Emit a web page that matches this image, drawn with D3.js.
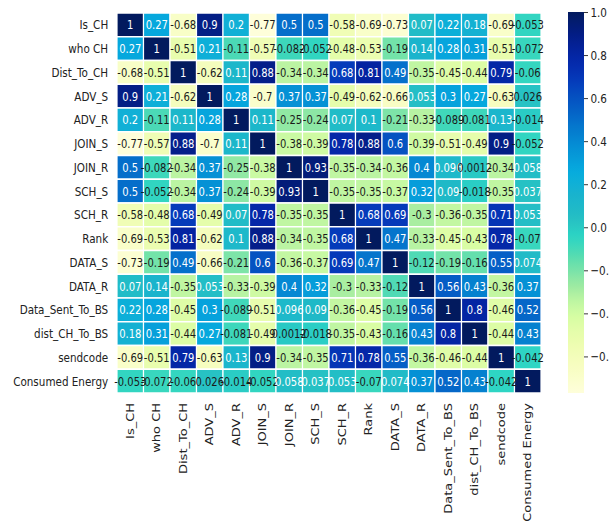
<!DOCTYPE html>
<html>
<head>
<meta charset="utf-8">
<script src="https://cdn.jsdelivr.net/npm/d3@7"></script>
<style>
  body { margin: 0; background: #fff; }
  text { font-family: "DejaVu Sans", sans-serif; }
</style>
</head>
<body>
<div id="chart"></div>
<script>
// variable names (rows and columns are the same)
var labels = ["Is_CH", "who CH", "Dist_To_CH", "ADV_S", "ADV_R", "JOIN_S", "JOIN_R", "SCH_S",
              "SCH_R", "Rank", "DATA_S", "DATA_R", "Data_Sent_To_BS", "dist_CH_To_BS", "sendcode", "Consumed Energy"];

// correlation rows
var rowIsCH      = [1, 0.27, -0.68, 0.9, 0.2, -0.77, 0.5, 0.5, -0.58, -0.69, -0.73, 0.07, 0.22, 0.18, -0.69, -0.053];
var rowWhoCH     = [0.27, 1, -0.51, 0.21, -0.11, -0.57, -0.082, -0.052, -0.48, -0.53, -0.19, 0.14, 0.28, 0.31, -0.51, -0.072];
var rowDistToCH  = [-0.68, -0.51, 1, -0.62, 0.11, 0.88, -0.34, -0.34, 0.68, 0.81, 0.49, -0.35, -0.45, -0.44, 0.79, -0.06];
var rowAdvS      = [0.9, 0.21, -0.62, 1, 0.28, -0.7, 0.37, 0.37, -0.49, -0.62, -0.66, 0.053, 0.3, 0.27, -0.63, 0.026];
var rowAdvR      = [0.2, -0.11, 0.11, 0.28, 1, 0.11, -0.25, -0.24, 0.07, 0.1, -0.21, -0.33, -0.089, -0.081, 0.13, -0.014];
var rowJoinS     = [-0.77, -0.57, 0.88, -0.7, 0.11, 1, -0.38, -0.39, 0.78, 0.88, 0.6, -0.39, -0.51, -0.49, 0.9, -0.052];
var rowJoinR     = [0.5, -0.082, -0.34, 0.37, -0.25, -0.38, 1, 0.93, -0.35, -0.34, -0.36, 0.4, 0.096, 0.0012, -0.34, 0.058];
var rowSchS      = [0.5, -0.052, -0.34, 0.37, -0.24, -0.39, 0.93, 1, -0.35, -0.35, -0.37, 0.32, 0.09, -0.018, -0.35, 0.037];
var rowSchR      = [-0.58, -0.48, 0.68, -0.49, 0.07, 0.78, -0.35, -0.35, 1, 0.68, 0.69, -0.3, -0.36, -0.35, 0.71, 0.053];
var rowRank      = [-0.69, -0.53, 0.81, -0.62, 0.1, 0.88, -0.34, -0.35, 0.68, 1, 0.47, -0.33, -0.45, -0.43, 0.78, -0.07];
var rowDataS     = [-0.73, -0.19, 0.49, -0.66, -0.21, 0.6, -0.36, -0.37, 0.69, 0.47, 1, -0.12, -0.19, -0.16, 0.55, 0.074];
var rowDataR     = [0.07, 0.14, -0.35, 0.053, -0.33, -0.39, 0.4, 0.32, -0.3, -0.33, -0.12, 1, 0.56, 0.43, -0.36, 0.37];
var rowSentToBS  = [0.22, 0.28, -0.45, 0.3, -0.089, -0.51, 0.096, 0.09, -0.36, -0.45, -0.19, 0.56, 1, 0.8, -0.46, 0.52];
var rowDistToBS  = [0.18, 0.31, -0.44, 0.27, -0.081, -0.49, 0.0012, -0.018, -0.35, -0.43, -0.16, 0.43, 0.8, 1, -0.44, 0.43];
var rowSendcode  = [-0.69, -0.51, 0.79, -0.63, 0.13, 0.9, -0.34, -0.35, 0.71, 0.78, 0.55, -0.36, -0.46, -0.44, 1, -0.042];
var rowEnergy    = [-0.053, -0.072, -0.06, 0.026, -0.014, -0.052, 0.058, 0.037, 0.053, -0.07, 0.074, 0.37, 0.52, 0.43, -0.042, 1];

var matrix = [rowIsCH, rowWhoCH, rowDistToCH, rowAdvS, rowAdvR, rowJoinS, rowJoinR, rowSchS,
              rowSchR, rowRank, rowDataS, rowDataR, rowSentToBS, rowDistToBS, rowSendcode, rowEnergy];

// colorbar ticks
var cbarTicks = [-0.6, -0.4, -0.2, 0.0, 0.2, 0.4, 0.6, 0.8, 1.0];

var W = 609, H = 524;
var sx = 0.8; // the picture is squeezed sideways, so everything is drawn in a squeezed group
var vmin = -0.77, vmax = 1;

// YlGnBu, more saturated (and a bit deeper in the middle) like the photo
function cellColor(v) {
    var t = (v - vmin) / (vmax - vmin);
    var c = d3.hsl(d3.interpolateYlGnBu(t));
    c.s = Math.min(0.95, c.s * 1.5);
    c.l = c.l - 0.1 * Math.exp(-Math.pow((t - 0.42) / 0.12, 2));
    return c.formatHex();
}

var svg = d3.select("#chart").append("svg")
    .attr("width", W).attr("height", H);
var g = svg.append("g").attr("transform", "scale(" + sx + ",1)");

var x = d3.scaleBand().domain(labels).range([117 / sx, 541 / sx]);
var y = d3.scaleBand().domain(labels).range([13, 393]);

// cells
var cells = [];
matrix.forEach(function (row, i) {
    row.forEach(function (v, j) { cells.push({r: labels[i], c: labels[j], v: v}); });
});

g.selectAll("rect.cell").data(cells).enter().append("rect")
    .attr("class", "cell")
    .attr("x", function (d) { return x(d.c); })
    .attr("y", function (d) { return y(d.r); })
    .attr("width", x.bandwidth())
    .attr("height", y.bandwidth())
    .attr("fill", function (d) { return cellColor(d.v); })
    .attr("stroke", "#fff")
    .attr("stroke-width", 1.5);

g.selectAll("text.annot").data(cells).enter().append("text")
    .attr("class", "annot")
    .attr("x", function (d) { return x(d.c) + x.bandwidth() / 2; })
    .attr("y", function (d) { return y(d.r) + y.bandwidth() / 2; })
    .attr("dy", "0.36em")
    .attr("text-anchor", "middle")
    .style("font-size", "12.5px")
    .attr("fill", function (d) { return d.v > 0.03 ? "#fff" : "#1a1a1a"; })
    .text(function (d) { return String(d.v); });

// row labels
g.selectAll("text.rowlab").data(labels).enter().append("text")
    .attr("class", "rowlab")
    .attr("x", 117 / sx - 11)
    .attr("y", function (d) { return y(d) + y.bandwidth() / 2; })
    .attr("dy", "0.35em")
    .attr("text-anchor", "end")
    .style("font-size", "13px")
    .attr("fill", "#222")
    .text(function (d) { return d; });

// column labels, rotated
g.selectAll("text.collab").data(labels).enter().append("text")
    .attr("class", "collab")
    .attr("transform", function (d) { return "translate(" + (x(d) + x.bandwidth() / 2) + ",403) rotate(-90)"; })
    .attr("dy", "0.35em")
    .attr("text-anchor", "end")
    .style("font-size", "13px")
    .attr("fill", "#222")
    .text(function (d) { return d; });

// colorbar
var cbX = 568 / sx, cbW = 16 / sx, cbTop = 12, cbBot = 393;
var defs = svg.append("defs");
var grad = defs.append("linearGradient").attr("id", "cbar")
    .attr("x1", 0).attr("y1", 1).attr("x2", 0).attr("y2", 0);
d3.range(0, 1.0001, 0.02).forEach(function (t) {
    grad.append("stop").attr("offset", t).attr("stop-color", cellColor(vmin + t * (vmax - vmin)));
});
g.append("rect")
    .attr("x", cbX).attr("y", cbTop)
    .attr("width", cbW).attr("height", cbBot - cbTop)
    .attr("fill", "url(#cbar)");

var cScale = d3.scaleLinear().domain([vmin, vmax]).range([cbBot, cbTop]);
var cAxis = g.append("g")
    .attr("transform", "translate(" + (cbX + cbW) + ",0)")
    .call(d3.axisRight(cScale).tickValues(cbarTicks).tickSize(5).tickPadding(3).tickFormat(d3.format(".1f")));
cAxis.select(".domain").remove();
cAxis.selectAll("text").style("font-size", "13px").attr("fill", "#222");
cAxis.selectAll("line").attr("stroke", "#222");
</script>
</body>
</html>
